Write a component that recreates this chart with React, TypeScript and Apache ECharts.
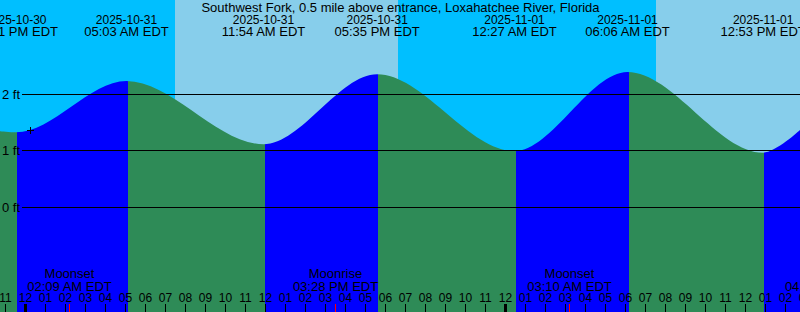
import React, { useEffect, useRef } from 'react';
import * as echarts from 'echarts';

const TITLE = 'Southwest Fork, 0.5 mile above entrance, Loxahatchee River, Florida';
const FONT = '13px "Liberation Sans", Arial, sans-serif';
const FONT_DIGITS = '12px "Liberation Sans", Arial, sans-serif';

// x axis: hours after 2025-10-31 00:00 EDT ; y axis: feet
const X_MIN = -1.275;
const X_MAX = 38.725;
const Y_MIN = -1.8496;
const Y_MAX = 3.6726;

// tide extremes
const eventDates = ['2025-10-30', '2025-10-31', '2025-10-31', '2025-10-31', '2025-11-01', '2025-11-01', '2025-11-01'];
const eventTimes = ['11:31 PM EDT', '05:03 AM EDT', '11:54 AM EDT', '05:35 PM EDT', '12:27 AM EDT', '06:06 AM EDT', '12:53 PM EDT'];
const eventHours = [-0.4833, 5.05, 11.9, 17.5833, 24.45, 30.1, 36.8833];
const eventLevels = [1.33, 2.24, 1.12, 2.36, 1.0, 2.4, 0.97];
const eventKinds = ['low', 'high', 'low', 'high', 'low', 'high', 'low'];

// curve level at the left and right edges of the picture
const edgeHours = [-1.275, 38.725];
const edgeLevels = [1.35, 1.37];

// sky: night / day intervals (sunrise 07:28, sunset 18:38, sunrise 07:32)
const skyStarts = [-1.275, 7.475, 18.625, 31.525];
const skyEnds = [7.475, 18.625, 31.525, 38.725];
const skyKinds = ['night', 'day', 'night', 'day'];

// moon events
const moonHours = [2.15, 15.4667, 27.1667, 40.0667];
const moonNames = ['Moonset', 'Moonrise', 'Moonset', 'Moonrise'];
const moonTimes = ['02:09 AM EDT', '03:28 PM EDT', '03:10 AM EDT', '04:04 PM EDT'];

// hour ticks
const hourTicks = [-1, 0, 1, 2, 3, 4, 5, 6, 7, 8, 9, 10, 11, 12, 13, 14, 15, 16, 17, 18, 19, 20, 21, 22, 23, 24, 25, 26, 27, 28, 29, 30, 31, 32, 33, 34, 35, 36, 37, 38, 39];
const hourLabels = ['11', '12', '01', '02', '03', '04', '05', '06', '07', '08', '09', '10', '11', '12', '01', '02', '03', '04', '05', '06', '07', '08', '09', '10', '11', '12', '01', '02', '03', '04', '05', '06', '07', '08', '09', '10', '11', '12', '01', '02', '03'];

// level lines
const levelTicks = [0, 1, 2];
const levelLabels = ['0 ft', '1 ft', '2 ft'];

// current-time marker
const nowMarker = [0.25, 1.36];

const NIGHT = '#00bfff';
const DAY = '#87ceeb';
const RISING = '#0000ff';
const FALLING = '#2e8b57';
const FILL_SHIFT = 0.065;

function txt(x: number, y: number, t: string, align: string = 'center', font: string = FONT) {
  return {
    type: 'text',
    x,
    y,
    style: { text: t, fill: '#000', font, align, verticalAlign: 'middle', textAlign: align, textVerticalAlign: 'middle' },
  };
}

export default function App() {
  const ref = useRef<HTMLDivElement>(null);

  useEffect(() => {
    document.body.style.margin = '0';
    if (!ref.current) return;
    const chart = echarts.init(ref.current, null, { renderer: 'svg' });

    const tideData: number[][] = [[edgeHours[0], edgeLevels[0]]];
    eventHours.forEach((h, i) => tideData.push([h, eventLevels[i]]));
    tideData.push([edgeHours[1], edgeLevels[1]]);

    const bounds = eventHours.map((h) => h + FILL_SHIFT);
    const pieces: any[] = [{ lt: bounds[0], color: eventKinds[0] === 'low' ? FALLING : RISING }];
    for (let i = 0; i < bounds.length; i++) {
      const p: any = { gte: bounds[i], color: eventKinds[i] === 'low' ? RISING : FALLING };
      if (i + 1 < bounds.length) p.lt = bounds[i + 1];
      pieces.push(p);
    }

    const option: any = {
      animation: false,
      grid: { left: 0, right: 0, top: 0, bottom: 0, containLabel: false },
      xAxis: { type: 'value', min: X_MIN, max: X_MAX, show: false },
      yAxis: { type: 'value', min: Y_MIN, max: Y_MAX, show: false },
      visualMap: {
        type: 'piecewise',
        show: false,
        dimension: 0,
        seriesIndex: 1,
        pieces,
      },
      graphic: [
        {
          type: 'text',
          x: 400.5,
          y: 7.5,
          z: 100,
          style: { text: TITLE, fill: '#000', font: FONT, align: 'center', verticalAlign: 'middle', textAlign: 'center', textVerticalAlign: 'middle' },
        },
      ],
      series: [
        {
          type: 'custom',
          z: 1,
          silent: true,
          data: skyStarts.map((s, i) => [s, skyEnds[i]]),
          renderItem: (params: any, api: any) => {
            const x1 = api.coord([api.value(0), 0])[0];
            const x2 = api.coord([api.value(1), 0])[0];
            const cs = params.coordSys;
            return {
              type: 'rect',
              shape: { x: x1, y: cs.y, width: x2 - x1, height: cs.height },
              style: { fill: skyKinds[params.dataIndex] === 'night' ? NIGHT : DAY },
            };
          },
        },
        {
          type: 'line',
          z: 2,
          silent: true,
          data: tideData,
          smooth: 0.3333,
          smoothMonotone: 'x',
          symbol: 'none',
          showSymbol: false,
          lineStyle: { width: 0, opacity: 0 },
          areaStyle: { opacity: 1, origin: 'start' },
        },
        {
          type: 'custom',
          z: 3,
          silent: true,
          data: levelTicks.map((v) => [X_MIN, v]),
          renderItem: (params: any, api: any) => {
            const py = api.coord([X_MIN, api.value(1)])[1];
            const y = Math.floor(py) + 0.5;
            const cs = params.coordSys;
            return {
              type: 'group',
              children: [
                { type: 'line', shape: { x1: 22, y1: y, x2: cs.x + cs.width, y2: y }, style: { stroke: '#000', lineWidth: 1 } },
                txt(20, py, levelLabels[params.dataIndex], 'right'),
              ],
            };
          },
        },
        {
          type: 'custom',
          z: 4,
          silent: true,
          data: hourTicks.map((h) => [h, 0]),
          renderItem: (params: any, api: any) => {
            const h = api.value(0);
            const px = api.coord([h, 0])[0];
            const col = Math.floor(px);
            const midnight = ((h % 24) + 24) % 24 === 0;
            return {
              type: 'group',
              children: [
                { type: 'rect', shape: { x: midnight ? col - 1 : col, y: 304, width: midnight ? 3 : 1, height: 8 }, style: { fill: '#000' } },
                txt(px, 297.5, hourLabels[params.dataIndex], 'center', FONT_DIGITS),
              ],
            };
          },
        },
        {
          type: 'custom',
          z: 5,
          silent: true,
          data: moonHours.map((h) => [h, 0]),
          renderItem: (params: any, api: any) => {
            const px = api.coord([api.value(0), 0])[0];
            const col = Math.round(px);
            return {
              type: 'group',
              children: [
                { type: 'rect', shape: { x: col, y: 304, width: 1, height: 8 }, style: { fill: '#ff0000' } },
                txt(col + 0.5, 273.5, moonNames[params.dataIndex]),
                txt(col + 0.5, 286, moonTimes[params.dataIndex]),
              ],
            };
          },
        },
        {
          type: 'custom',
          z: 6,
          silent: true,
          data: eventHours.map((h, i) => [h, eventLevels[i]]),
          renderItem: (params: any, api: any) => {
            const px = api.coord([api.value(0), 0])[0];
            return {
              type: 'group',
              children: [
                txt(px, 19.5, eventDates[params.dataIndex], 'center', FONT_DIGITS),
                txt(px, 31.5, eventTimes[params.dataIndex]),
              ],
            };
          },
        },
        {
          type: 'custom',
          z: 7,
          silent: true,
          data: [nowMarker],
          renderItem: (params: any, api: any) => {
            const p = api.coord([api.value(0), api.value(1)]);
            const cx = Math.floor(p[0]);
            const cy = Math.floor(p[1]);
            return {
              type: 'group',
              children: [
                { type: 'rect', shape: { x: cx - 3, y: cy, width: 7, height: 1 }, style: { fill: '#000' } },
                { type: 'rect', shape: { x: cx, y: cy - 3, width: 1, height: 7 }, style: { fill: '#000' } },
              ],
            };
          },
        },
      ],
    };

    chart.setOption(option);
    return () => chart.dispose();
  }, []);

  return <div ref={ref} style={{ position: 'absolute', left: 0, top: 0, width: 800, height: 312 }} />;
}
